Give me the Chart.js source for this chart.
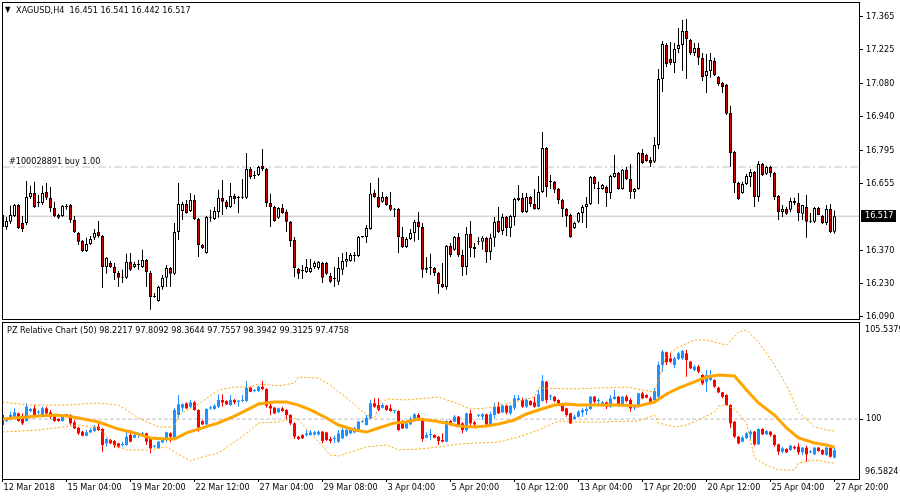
<!DOCTYPE html>
<html><head><meta charset="utf-8">
<script src="https://cdn.jsdelivr.net/npm/chart.js@4.4.1/dist/chart.umd.min.js"></script>
<style>
html,body{margin:0;padding:0;background:#fff;width:900px;height:500px;overflow:hidden}
#c1{position:absolute;left:0;top:0}
#c2{position:absolute;left:0;top:321px}
.t{position:absolute;font:9px "DejaVu Sans Condensed","DejaVu Sans",sans-serif;color:#000;white-space:pre;line-height:12px}
.tri{font-size:8px;vertical-align:1px;margin-right:3px}
</style></head><body>
<canvas id="c1" width="900" height="321"></canvas>
<canvas id="c2" width="900" height="179"></canvas>
<div class="t" style="left:5px;top:4px"><span class="tri">▼</span> XAGUSD,H4  16.451 16.541 16.442 16.517</div>
<div class="t" style="left:7px;top:324px">PZ Relative Chart (50) 98.2217 97.8092 98.3644 97.7557 98.3942 99.3125 97.4758</div>
<script>
// ---------- data ----------
const timeLabels = ['12 Mar 2018','15 Mar 04:00','19 Mar 20:00','22 Mar 12:00','27 Mar 04:00','29 Mar 08:00','3 Apr 04:00','5 Apr 20:00','10 Apr 12:00','13 Apr 04:00','17 Apr 20:00','20 Apr 12:00','25 Apr 04:00','27 Apr 20:00'];
const priceTicks = [16.090,16.230,16.370,16.655,16.795,16.940,17.080,17.225,17.365];
const buyLevel = 16.726;

const open = [16.522,16.471,16.493,16.518,16.565,16.488,16.488,16.599,16.616,16.573,
16.573,16.620,16.595,16.552,16.522,16.518,16.561,16.565,16.501,16.446,
16.412,16.369,16.399,16.425,16.450,16.433,16.301,16.318,16.301,16.276,
16.255,16.255,16.323,16.301,16.310,16.301,16.331,16.276,16.174,16.157,
16.216,16.255,16.297,16.272,16.450,16.539,16.569,16.539,16.586,16.505,
16.395,16.361,16.510,16.505,16.535,16.595,16.578,16.556,16.603,16.595,
16.595,16.595,16.718,16.688,16.692,16.731,16.718,16.573,16.556,16.510,
16.552,16.535,16.493,16.416,16.293,16.284,16.280,16.280,16.301,16.297,
16.318,16.318,16.263,16.250,16.238,16.289,16.323,16.327,16.348,16.348,
16.429,16.429,16.463,16.616,16.599,16.578,16.599,16.565,16.544,16.548,
16.429,16.386,16.420,16.446,16.493,16.471,16.289,16.297,16.297,16.276,
16.229,16.216,16.391,16.374,16.429,16.352,16.301,16.442,16.386,16.408,
16.408,16.425,16.365,16.425,16.497,16.454,16.514,16.467,16.514,16.586,
16.595,16.535,16.599,16.569,16.548,16.620,16.807,16.663,16.663,16.633,
16.586,16.548,16.522,16.467,16.493,16.531,16.556,16.569,16.684,16.633,
16.633,16.641,16.616,16.684,16.701,16.633,16.714,16.675,16.620,16.633,
16.786,16.777,16.756,16.748,16.820,17.100,17.245,17.185,17.168,17.228,
17.245,17.304,17.266,17.211,17.232,17.190,17.113,17.134,17.177,17.109,
17.083,17.075,16.956,16.790,16.658,16.616,16.654,16.684,16.705,16.599,
16.739,16.697,16.726,16.701,16.603,16.535,16.548,16.544,16.582,16.573,
16.527,16.556,16.493,16.493,16.552,16.518,16.488,16.548,16.451];
const high = [16.527,16.514,16.561,16.569,16.569,16.518,16.667,16.646,16.663,16.607,
16.646,16.658,16.641,16.578,16.527,16.565,16.569,16.569,16.518,16.450,
16.416,16.425,16.433,16.463,16.497,16.437,16.344,16.327,16.318,16.284,
16.289,16.357,16.361,16.323,16.331,16.374,16.335,16.284,16.191,16.221,
16.267,16.310,16.301,16.488,16.658,16.578,16.586,16.616,16.607,16.510,
16.399,16.518,16.544,16.556,16.629,16.671,16.586,16.658,16.612,16.603,
16.675,16.786,16.726,16.709,16.731,16.803,16.722,16.612,16.561,16.556,
16.569,16.544,16.497,16.429,16.297,16.310,16.335,16.335,16.327,16.327,
16.323,16.323,16.276,16.301,16.344,16.361,16.365,16.361,16.365,16.433,
16.433,16.480,16.658,16.629,16.680,16.620,16.603,16.620,16.552,16.552,
16.471,16.429,16.463,16.501,16.535,16.488,16.344,16.357,16.301,16.280,
16.318,16.395,16.403,16.433,16.446,16.374,16.471,16.497,16.403,16.429,
16.433,16.429,16.442,16.514,16.556,16.527,16.518,16.522,16.595,16.650,
16.616,16.616,16.603,16.633,16.688,16.875,16.811,16.692,16.667,16.637,
16.590,16.552,16.527,16.493,16.535,16.565,16.599,16.688,16.688,16.663,
16.654,16.646,16.692,16.777,16.705,16.718,16.726,16.739,16.637,16.790,
16.803,16.782,16.769,16.854,17.143,17.262,17.253,17.257,17.253,17.317,
17.351,17.355,17.270,17.253,17.253,17.211,17.206,17.211,17.190,17.113,
17.088,17.079,16.986,16.794,16.663,16.663,16.697,16.718,16.709,16.752,
16.743,16.731,16.731,16.705,16.607,16.565,16.556,16.595,16.595,16.616,
16.565,16.607,16.531,16.556,16.556,16.522,16.565,16.569,16.541];
const low = [16.429,16.459,16.484,16.514,16.463,16.450,16.480,16.590,16.552,16.556,
16.565,16.586,16.535,16.514,16.505,16.514,16.544,16.488,16.446,16.395,
16.365,16.365,16.395,16.416,16.425,16.212,16.272,16.297,16.246,16.216,
16.233,16.250,16.284,16.297,16.289,16.297,16.216,16.119,16.170,16.153,
16.204,16.216,16.216,16.267,16.416,16.501,16.527,16.535,16.501,16.344,
16.378,16.357,16.493,16.501,16.510,16.522,16.548,16.552,16.569,16.531,
16.590,16.590,16.675,16.675,16.688,16.709,16.556,16.471,16.493,16.505,
16.527,16.450,16.386,16.259,16.250,16.250,16.276,16.276,16.293,16.289,
16.233,16.267,16.233,16.216,16.225,16.267,16.301,16.323,16.323,16.344,
16.425,16.403,16.459,16.595,16.552,16.573,16.561,16.539,16.514,16.361,
16.382,16.382,16.416,16.408,16.416,16.255,16.276,16.267,16.263,16.187,
16.212,16.204,16.344,16.369,16.344,16.263,16.267,16.344,16.340,16.395,
16.374,16.318,16.331,16.386,16.446,16.437,16.433,16.429,16.476,16.582,
16.531,16.531,16.556,16.544,16.544,16.616,16.599,16.633,16.616,16.569,
16.514,16.471,16.425,16.463,16.488,16.488,16.467,16.565,16.633,16.569,
16.629,16.556,16.590,16.680,16.629,16.629,16.671,16.590,16.590,16.629,
16.739,16.748,16.726,16.743,16.803,17.045,17.151,17.160,17.126,17.211,
17.134,17.100,17.202,17.198,17.160,17.092,17.041,17.105,17.113,17.071,
17.041,16.947,16.726,16.616,16.586,16.612,16.650,16.641,16.556,16.578,
16.688,16.692,16.684,16.586,16.501,16.514,16.522,16.535,16.565,16.497,
16.501,16.425,16.488,16.488,16.522,16.484,16.480,16.446,16.442];
const close = [16.471,16.497,16.522,16.565,16.467,16.463,16.599,16.616,16.556,16.578,
16.616,16.595,16.552,16.518,16.510,16.561,16.556,16.501,16.450,16.408,
16.369,16.399,16.420,16.446,16.433,16.301,16.340,16.301,16.276,16.255,
16.259,16.323,16.289,16.314,16.311,16.331,16.280,16.174,16.178,16.216,
16.255,16.297,16.272,16.450,16.569,16.569,16.531,16.586,16.505,16.395,
16.382,16.514,16.514,16.539,16.595,16.578,16.556,16.603,16.590,16.594,
16.599,16.718,16.684,16.692,16.726,16.718,16.573,16.556,16.497,16.552,
16.531,16.493,16.412,16.297,16.272,16.289,16.301,16.297,16.318,16.323,
16.255,16.272,16.238,16.255,16.297,16.327,16.335,16.352,16.352,16.429,
16.430,16.467,16.612,16.599,16.556,16.599,16.565,16.544,16.545,16.429,
16.386,16.420,16.446,16.493,16.471,16.289,16.297,16.298,16.276,16.229,
16.216,16.391,16.352,16.429,16.352,16.301,16.442,16.382,16.378,16.412,
16.425,16.365,16.425,16.493,16.450,16.514,16.467,16.518,16.590,16.595,
16.535,16.599,16.569,16.548,16.620,16.807,16.641,16.662,16.629,16.586,
16.548,16.518,16.429,16.488,16.531,16.556,16.569,16.684,16.654,16.634,
16.650,16.616,16.688,16.701,16.633,16.714,16.675,16.620,16.633,16.786,
16.743,16.752,16.743,16.820,17.100,17.249,17.164,17.168,17.228,17.245,
17.304,17.270,17.211,17.232,17.190,17.109,17.134,17.181,17.117,17.079,
17.066,16.952,16.786,16.658,16.590,16.654,16.688,16.705,16.599,16.739,
16.692,16.726,16.701,16.599,16.535,16.548,16.527,16.582,16.573,16.531,
16.565,16.493,16.494,16.552,16.522,16.488,16.548,16.450,16.517];

const relOpen = [100.232,99.890,100.004,100.137,100.327,100.042,99.890,100.460,100.612,100.365,
100.232,100.612,100.384,100.137,100.004,99.890,100.232,100.232,99.814,99.510,
99.281,99.053,99.243,99.319,99.567,99.434,98.616,98.806,98.749,98.616,
98.521,98.521,99.091,98.939,99.091,99.053,99.186,98.863,98.426,98.331,
98.673,98.901,99.186,98.901,100.232,100.650,100.898,100.707,100.955,100.517,
99.890,99.700,100.612,100.574,100.707,101.088,101.031,100.802,101.088,100.993,
101.031,101.031,101.791,101.601,101.601,101.848,101.715,100.764,100.650,100.384,
100.612,100.517,100.232,99.757,98.996,99.091,99.091,99.091,99.129,99.129,
99.281,99.243,98.863,98.863,98.711,98.901,99.053,99.186,99.243,99.376,
99.852,99.662,100.042,100.898,100.802,100.650,100.764,100.612,100.460,100.460,
99.757,99.472,99.700,99.947,100.232,100.042,98.939,99.091,99.091,98.996,
98.806,98.711,99.890,99.852,100.137,99.757,99.376,100.327,99.814,100.194,
100.137,100.270,99.700,100.232,100.707,100.384,100.764,100.327,100.650,101.088,
101.088,100.707,101.031,100.955,100.707,101.031,102.133,101.278,101.278,101.088,
100.898,100.612,100.327,100.004,100.137,100.384,100.460,100.574,101.278,101.031,
100.841,100.955,100.707,101.145,101.278,100.764,101.278,101.088,100.650,100.707,
101.468,101.373,101.183,101.088,101.278,103.084,103.807,103.464,103.084,103.426,
103.464,103.750,103.274,102.799,102.989,102.514,102.133,102.228,102.228,101.791,
101.525,101.373,100.802,99.852,98.996,98.711,98.901,99.129,99.281,98.559,
99.434,99.129,99.281,99.091,98.559,98.141,98.293,98.236,98.426,98.426,
98.103,98.369,98.103,97.989,98.369,98.236,97.951,98.369,97.809];
const relHigh = [100.270,100.118,100.422,100.612,100.365,100.327,100.898,100.650,100.802,100.517,
100.707,100.707,100.517,100.232,100.042,100.270,100.270,100.270,99.947,99.548,
99.319,99.376,99.472,99.662,99.757,99.472,98.901,98.863,98.806,98.654,
98.711,99.376,99.376,99.186,99.243,99.281,99.224,98.901,98.521,98.749,
98.939,99.281,99.243,100.612,101.373,100.898,100.955,101.088,101.031,100.555,
99.928,100.612,100.764,100.841,101.411,101.411,101.069,101.373,101.145,101.088,
101.373,102.171,101.848,101.715,101.905,102.171,101.753,100.955,100.688,100.650,
100.707,100.574,100.270,99.814,99.053,99.129,99.376,99.376,99.319,99.357,
99.319,99.281,98.996,99.053,99.376,99.567,99.510,99.510,99.567,99.890,
99.890,100.232,101.088,101.183,101.183,100.898,100.802,100.841,100.517,100.498,
99.947,99.814,100.137,100.327,100.327,100.080,99.243,99.434,99.129,99.034,
99.186,99.928,99.947,100.232,100.194,99.814,100.365,100.517,99.890,100.270,
100.346,100.308,100.422,100.898,100.955,100.841,100.802,100.802,101.373,101.373,
101.221,101.183,101.069,101.278,101.658,102.514,102.171,101.411,101.316,101.126,
100.936,100.650,100.365,100.232,100.517,100.612,100.707,101.316,101.316,101.183,
101.031,100.993,101.373,101.658,101.316,101.316,101.373,101.183,100.841,101.506,
101.563,101.411,101.278,101.753,103.274,103.940,103.845,103.750,103.559,103.845,
103.940,103.940,103.312,103.084,103.084,102.552,102.799,102.799,102.266,101.848,
101.563,101.411,100.841,99.890,99.034,99.053,99.243,99.376,99.319,99.472,
99.472,99.376,99.319,99.129,98.597,98.426,98.331,98.521,98.483,98.616,
98.407,98.483,98.236,98.407,98.407,98.274,98.426,98.426,98.364];
const relLow = [99.548,99.814,99.928,100.099,99.852,99.662,99.852,100.384,100.099,100.232,
100.175,100.270,100.004,99.852,99.852,99.852,100.137,99.662,99.434,99.091,
99.015,99.015,99.205,99.281,99.319,98.141,98.426,98.578,98.369,98.331,
98.426,98.483,98.673,98.901,98.939,98.996,98.521,98.046,98.369,98.293,
98.616,98.673,98.673,98.863,100.042,100.422,100.574,100.650,100.479,99.281,
99.662,99.662,100.517,100.536,100.612,100.707,100.802,100.764,100.841,100.707,
100.955,100.993,101.525,101.525,101.563,101.658,100.650,100.232,100.289,100.346,
100.422,100.004,99.662,98.863,98.806,98.863,98.996,99.053,99.053,99.053,
98.616,98.749,98.616,98.616,98.654,98.863,98.996,99.129,99.186,99.319,
99.795,99.624,100.004,100.650,100.460,100.612,100.479,100.422,100.327,99.319,
99.434,99.434,99.662,99.852,99.890,98.711,98.901,98.806,98.901,98.521,
98.673,98.673,99.624,99.814,99.624,99.186,99.281,99.662,99.567,100.118,
99.947,99.567,99.624,100.042,100.289,100.327,100.270,100.232,100.517,101.050,
100.650,100.650,100.764,100.650,100.669,100.993,100.898,101.088,100.955,100.802,
100.422,100.137,99.719,99.966,100.099,100.137,100.232,100.536,100.898,100.802,
100.802,100.574,100.650,101.107,100.707,100.726,100.955,100.422,100.517,100.669,
101.145,101.183,100.898,101.050,101.183,102.704,103.084,103.179,102.894,103.369,
103.369,102.419,102.856,102.742,102.609,101.943,101.563,102.171,101.791,101.468,
101.183,100.764,99.472,98.901,98.559,98.673,98.863,98.806,98.483,98.521,
99.091,99.091,98.996,98.426,97.951,98.046,98.065,98.179,98.255,97.951,
97.951,97.570,98.046,97.951,98.141,97.951,97.913,97.799,97.756];
const relClose = [99.662,100.042,100.232,100.384,99.890,99.757,100.707,100.574,100.137,100.375,
100.612,100.327,100.137,99.890,99.890,100.232,100.222,99.757,99.472,99.186,
99.053,99.243,99.376,99.567,99.376,98.521,98.863,98.616,98.521,98.426,
98.531,98.996,98.711,99.091,99.101,99.186,98.711,98.331,98.436,98.711,
98.863,99.243,98.996,100.517,100.841,100.841,100.612,100.955,100.517,99.510,
99.700,100.574,100.622,100.764,101.088,100.955,100.841,101.088,100.955,101.003,
101.041,101.791,101.563,101.611,101.848,101.715,100.764,100.612,100.327,100.612,
100.460,100.232,99.757,98.996,98.863,98.901,99.186,99.243,99.243,99.281,
98.749,98.806,98.749,98.873,99.186,99.376,99.376,99.434,99.472,99.852,
99.862,100.080,100.898,100.707,100.517,100.802,100.517,100.460,100.470,99.376,
99.472,99.757,100.004,100.270,100.042,98.863,99.091,99.101,98.939,98.749,
98.711,99.890,99.662,100.137,99.662,99.376,100.327,99.757,99.700,100.204,
100.270,99.700,100.270,100.707,100.327,100.764,100.384,100.764,101.183,101.183,
100.707,101.088,100.802,100.707,101.411,102.171,101.088,101.288,101.031,100.898,
100.460,100.232,99.757,100.137,100.422,100.517,100.574,101.278,100.993,101.041,
100.955,100.707,101.183,101.278,100.764,101.278,101.031,100.612,100.802,101.468,
101.183,101.221,100.955,101.601,103.084,103.845,103.236,103.274,103.464,103.750,
103.883,103.369,102.894,102.989,102.704,102.038,102.514,102.514,101.848,101.525,
101.278,100.802,99.757,98.996,98.616,98.939,99.186,99.281,98.559,99.434,
99.129,99.319,99.091,98.521,98.141,98.331,98.103,98.483,98.331,98.103,
98.369,97.989,98.113,98.369,98.179,97.989,98.369,97.856,98.222];

const maIdx = [0,9,13,16,19,24,29,33,37,41,43,46,49,54,58,62,64,68,71,74,77,81,84,88,91,94,98,101,104,108,111,114,118,121,124,128,131,134,138,141,144,149,154,159,163,166,169,173,176,179,183,186,189,193,196,199,203,206,208];
const maVal = [100.00,100.17,100.23,100.17,100.06,99.83,99.43,99.21,98.92,98.86,98.86,99.21,99.43,99.78,100.17,100.63,100.86,100.97,100.97,100.80,100.52,100.06,99.66,99.38,99.26,99.49,99.78,99.83,100.00,99.89,99.78,99.61,99.55,99.61,99.72,99.95,100.29,100.52,100.80,100.86,100.80,100.80,100.80,100.75,100.97,101.43,101.77,102.12,102.40,102.51,102.46,101.66,100.92,100.23,99.49,98.92,98.64,98.52,98.39];
const upIdx = [0,7,16,24,29,31,34,39,43,44,49,54,58,62,64,69,73,74,79,82,87,91,93,94,96,101,109,114,117,121,129,133,134,143,149,156,163,166,169,173,176,181,184,186,189,193,196,199,203,206,208];
const upVal = [100.97,100.80,100.80,100.92,100.80,100.52,100.06,99.55,99.55,100.23,100.86,101.66,101.83,101.83,102.00,101.89,102.06,102.40,102.34,101.94,101.03,100.23,100.06,100.69,101.15,101.09,101.26,100.86,100.57,100.63,101.03,101.26,101.77,101.72,101.77,101.83,101.54,103.65,104.11,104.51,104.51,104.22,104.97,105.08,104.40,103.08,101.94,100.40,99.55,99.38,99.31];
const dnIdx = [0,9,19,24,28,31,37,41,43,47,49,54,59,62,64,69,73,74,82,84,91,96,99,104,109,114,119,124,129,134,139,144,149,159,163,164,168,171,174,178,179,181,183,186,188,191,194,198,199,203,206,208];
const dnVal = [99.26,99.38,99.66,99.49,98.52,98.24,98.24,98.41,98.12,97.61,97.78,98.07,98.86,99.38,99.78,99.83,100.06,99.95,97.95,97.89,98.41,98.52,98.24,98.29,98.41,98.58,98.64,98.69,98.98,99.38,99.89,99.83,99.83,99.89,100.23,99.78,99.55,99.66,99.95,100.40,100.75,100.80,100.57,99.78,97.78,97.38,97.10,97.10,97.49,97.67,97.55,97.48];
const relLevel = 100;
const relMax = 105.5379, relMin = 96.5824;

// ---------- helpers ----------
const FAM = '"DejaVu Sans Condensed","DejaVu Sans",sans-serif';
const FSIZE = 9;
Chart.defaults.font = {family: FAM, size: FSIZE};
Chart.defaults.color = '#000';
const X_MIN = -0.125, X_MAX = 214.125;
const ORANGE = '#ffa500', GRAY = '#c0c0c0';

const barBase = {type:'bar', grouped:false, inflateAmount:0, borderSkipped:false, minBarLength:1};
function candleSets(o,h,l,c,upFill,dnFill,upEdge,dnEdge,bw){
  const up = c.map((v,i)=>v>=o[i]);
  return [
    {...barBase, order:3, barThickness:3, borderWidth:bw,
     data:o.map((v,i)=>({x:i,y:[v,c[i]]})),
     backgroundColor:up.map(u=>u?upFill:dnFill),
     borderColor:up.map(u=>u?upEdge:dnEdge)},
    {...barBase, order:4, barThickness:1, borderWidth:0,
     data:l.map((v,i)=>({x:i,y:[v,h[i]]})),
     backgroundColor:up.map(u=>u?upEdge:dnEdge)}
  ];
}
function hline(v,color,dash){
  return {type:'line', order:6, data:[{x:X_MIN,y:v},{x:X_MAX,y:v}], borderColor:color, borderWidth:1, borderDash:dash, pointRadius:0, fill:false};
}
function sparse(idx,val){ return idx.map((k,j)=>({x:k,y:val[j]})); }
function fixY(s){ s.width=41; s.paddingTop=0; s.paddingBottom=0; s.paddingLeft=0; s.paddingRight=0; }
function fixX(s,h){ s.height=h; s.paddingTop=0; s.paddingBottom=0; s.paddingLeft=0; s.paddingRight=0; }

const framePlugin = {id:'frame', afterDraw(chart){
  const {ctx, chartArea:a} = chart;
  ctx.save(); ctx.strokeStyle='#000'; ctx.lineWidth=1;
  ctx.strokeRect(Math.round(a.left)+0.5, Math.round(a.top)+0.5, Math.round(a.right-a.left), Math.round(a.bottom-a.top));
  ctx.restore();
}};

// ---------- upper chart ----------
const upperExtras = {id:'upperExtras', afterDraw(chart){
  const {ctx, scales:{y}} = chart;
  ctx.save();
  ctx.font = FSIZE+'px '+FAM; ctx.textBaseline='bottom'; ctx.fillStyle='#000';
  ctx.fillText('#100028891 buy 1.00', 9, y.getPixelForValue(buyLevel)-1);
  const last = close[close.length-1];
  const py = Math.round(y.getPixelForValue(last));
  ctx.fillStyle='#000'; ctx.fillRect(861, py-6, 35, 12);
  ctx.fillStyle='#fff'; ctx.textBaseline='middle';
  ctx.fillText(last.toFixed(3), 865, py);
  ctx.restore();
}};

new Chart(document.getElementById('c1'), {
  type:'bar',
  data:{datasets:[
    ...candleSets(open,high,low,close,'#ffffff','#d00000','#000000','#000000',1),
    hline(buyLevel, GRAY, [8,3,2,3]),
    hline(close[close.length-1], GRAY, [])
  ]},
  options:{
    responsive:false, animation:false, events:[],
    layout:{padding:{left:2,top:2,right:0,bottom:2}},
    plugins:{legend:{display:false}, tooltip:{enabled:false}},
    scales:{
      x:{type:'linear', min:X_MIN, max:X_MAX, display:false, offset:false, grid:{offset:false}},
      y:{position:'right', min:16.080, max:17.4275, beginAtZero:false,
         afterFit:fixY,
         afterBuildTicks:s=>{s.ticks=priceTicks.map(v=>({value:v}));},
         ticks:{autoSkip:false, padding:3, color:'#000', callback:v=>Number(v).toFixed(3)},
         grid:{drawOnChartArea:false, drawTicks:true, tickLength:4, color:'#000'},
         border:{display:false}}
    }
  },
  plugins:[framePlugin, upperExtras]
});

// ---------- lower chart ----------
const lowerExtras = {id:'lowerExtras', afterDraw(chart){
  const {ctx, chartArea:a} = chart;
  ctx.save(); ctx.font=FSIZE+'px '+FAM; ctx.fillStyle='#000'; ctx.textBaseline='middle';
  ctx.fillText(relMax.toFixed(4), 865, a.top+8);
  ctx.fillText(relMin.toFixed(4), 865, a.bottom-7);
  ctx.restore();
}};

new Chart(document.getElementById('c2'), {
  type:'bar',
  data:{datasets:[
    {type:'line', order:1, data:sparse(maIdx,maVal), borderColor:ORANGE, borderWidth:3, pointRadius:0, tension:0, fill:false},
    {type:'line', order:2, data:sparse(upIdx,upVal), borderColor:ORANGE, borderWidth:1, borderDash:[2,2], pointRadius:0, tension:0, fill:false},
    {type:'line', order:2, data:sparse(dnIdx,dnVal), borderColor:ORANGE, borderWidth:1, borderDash:[2,2], pointRadius:0, tension:0, fill:false},
    ...candleSets(relOpen,relHigh,relLow,relClose,'#1e90ff','#ff0000','#1e90ff','#ff0000',0),
    hline(relLevel, GRAY, [4,2])
  ]},
  options:{
    responsive:false, animation:false, events:[],
    layout:{padding:{left:2,top:1,right:0,bottom:0}},
    plugins:{legend:{display:false}, tooltip:{enabled:false}},
    scales:{
      x:{type:'linear', min:X_MIN, max:X_MAX, offset:false, position:'bottom',
         afterFit:s=>fixX(s,21),
         afterBuildTicks:s=>{s.ticks=timeLabels.map((t,k)=>({value:k*16}));},
         ticks:{autoSkip:false, maxRotation:0, minRotation:0, align:'start', labelOffset:1, padding:0, color:'#000',
                callback:v=>timeLabels[Math.round(v/16)]},
         grid:{drawOnChartArea:false, drawTicks:true, tickLength:3, color:'#000', offset:false},
         border:{display:false}},
      y:{position:'right', min:relMin, max:relMax, beginAtZero:false,
         afterFit:fixY,
         afterBuildTicks:s=>{s.ticks=[{value:relLevel}];},
         ticks:{autoSkip:false, padding:3, color:'#000', callback:v=>String(v)},
         grid:{drawOnChartArea:false, drawTicks:true, tickLength:4, color:'#000'},
         border:{display:false}}
    }
  },
  plugins:[framePlugin, lowerExtras]
});
</script>
</body></html>
